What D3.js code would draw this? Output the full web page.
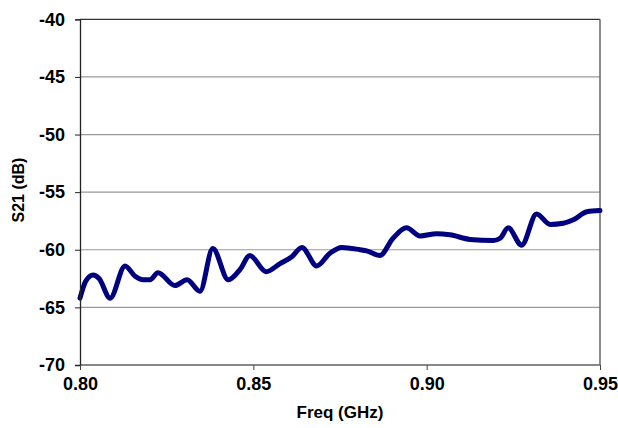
<!DOCTYPE html>
<html>
<head>
<meta charset="utf-8">
<script src="https://cdn.jsdelivr.net/npm/d3@7/dist/d3.min.js"></script>
<style>
  html, body { margin: 0; padding: 0; background: #fff; }
  svg { display: block; }
  text { font-family: "Liberation Sans", Arial, sans-serif; font-weight: bold; fill: #000; }
</style>
</head>
<body>
<svg id="chart" width="618" height="428"></svg>
<script>
// ---- data ----
const freqGHz = [0.8000, 0.8017, 0.8038, 0.8055, 0.8087, 0.8130, 0.8159, 0.8182, 0.8202, 0.8225,
  0.8274, 0.8309, 0.8346, 0.8383, 0.8428, 0.8462, 0.8490, 0.8537, 0.8577, 0.8611,
  0.8640, 0.8683, 0.8721, 0.8755, 0.8808, 0.8827, 0.8865, 0.8903, 0.8942, 0.8981,
  0.9029, 0.9067, 0.9125, 0.9192, 0.9212, 0.9235, 0.9274, 0.9317, 0.9356, 0.9394,
  0.9423, 0.9462, 0.9500];
const s21dB = [-64.2, -62.7, -62.2, -62.5, -64.2, -61.4, -62.3, -62.6, -62.6, -62.0,
  -63.1, -62.6, -63.6, -59.9, -62.6, -61.7, -60.5, -61.9, -61.2, -60.6,
  -59.8, -61.4, -60.3, -59.8, -60.0, -60.1, -60.5, -59.0, -58.1, -58.8,
  -58.6, -58.7, -59.1, -59.2, -59.0, -58.1, -59.6, -56.9, -57.8, -57.7,
  -57.4, -56.7, -56.6];
const xTicks = [0.80, 0.85, 0.90, 0.95];
const yTicks = [-70, -65, -60, -55, -50, -45, -40];
const xTitle = "Freq (GHz)";
const yTitle = "S21 (dB)";

// ---- layout ----
const plot = { left: 80, right: 600, top: 19.3, bottom: 365 };

const svg = d3.select("#chart");
const x = d3.scaleLinear().domain([0.80, 0.95]).range([plot.left, plot.right]);
const y = d3.scaleLinear().domain([-70, -40]).range([plot.bottom, plot.top]);

// gridlines
svg.append("g").selectAll("line")
  .data(yTicks.filter(t => t > -70 && t < -40))
  .join("line")
  .attr("x1", plot.left).attr("x2", plot.right)
  .attr("y1", d => y(d)).attr("y2", d => y(d))
  .attr("stroke", "#999").attr("stroke-width", 1.2);

// top border
svg.append("line")
  .attr("x1", plot.left).attr("x2", plot.right)
  .attr("y1", y(-40)).attr("y2", y(-40))
  .attr("stroke", "#333").attr("stroke-width", 1.2);
// bottom border
svg.append("line")
  .attr("x1", plot.left).attr("x2", plot.right)
  .attr("y1", y(-70)).attr("y2", y(-70))
  .attr("stroke", "#888").attr("stroke-width", 2);
// right border
svg.append("line")
  .attr("x1", plot.right).attr("x2", plot.right)
  .attr("y1", y(-40)).attr("y2", y(-70))
  .attr("stroke", "#666").attr("stroke-width", 1.5);

// line
const line = d3.line()
  .x((d, i) => x(freqGHz[i]))
  .y(d => y(d))
  .curve(d3.curveMonotoneX);
svg.append("path")
  .datum(s21dB)
  .attr("d", line)
  .attr("fill", "none")
  .attr("stroke", "#000080")
  .attr("stroke-width", 5)
  .attr("stroke-linejoin", "round")
  .attr("stroke-linecap", "round");

// axes
const yAxis = d3.axisLeft(y).tickValues(yTicks).tickSize(5).tickPadding(10)
  .tickFormat(d => String(d));
const gy = svg.append("g").attr("transform", `translate(${plot.left},0)`).call(yAxis);
gy.select(".domain").attr("stroke", "#222").attr("stroke-width", 1.3);
gy.selectAll(".tick line").attr("stroke", "#222");
gy.selectAll("text").style("font-size", "18px").attr("font-family", null);

const xAxis = d3.axisBottom(x).tickValues(xTicks).tickSize(5).tickPadding(7)
  .tickFormat(d => d.toFixed(2));
const gx = svg.append("g").attr("transform", `translate(0,${plot.bottom})`).call(xAxis);
gx.select(".domain").remove();
gx.selectAll(".tick line").attr("stroke", "#444");
gx.selectAll("text").style("font-size", "18px").attr("font-family", null);

// titles
svg.append("text")
  .attr("x", (plot.left + plot.right) / 2).attr("y", 418)
  .attr("text-anchor", "middle")
  .style("font-size", "17px")
  .text(xTitle);
svg.append("text")
  .attr("transform", `translate(24,190) rotate(-90)`)
  .attr("text-anchor", "middle")
  .style("font-size", "16px")
  .text(yTitle);
</script>
</body>
</html>
